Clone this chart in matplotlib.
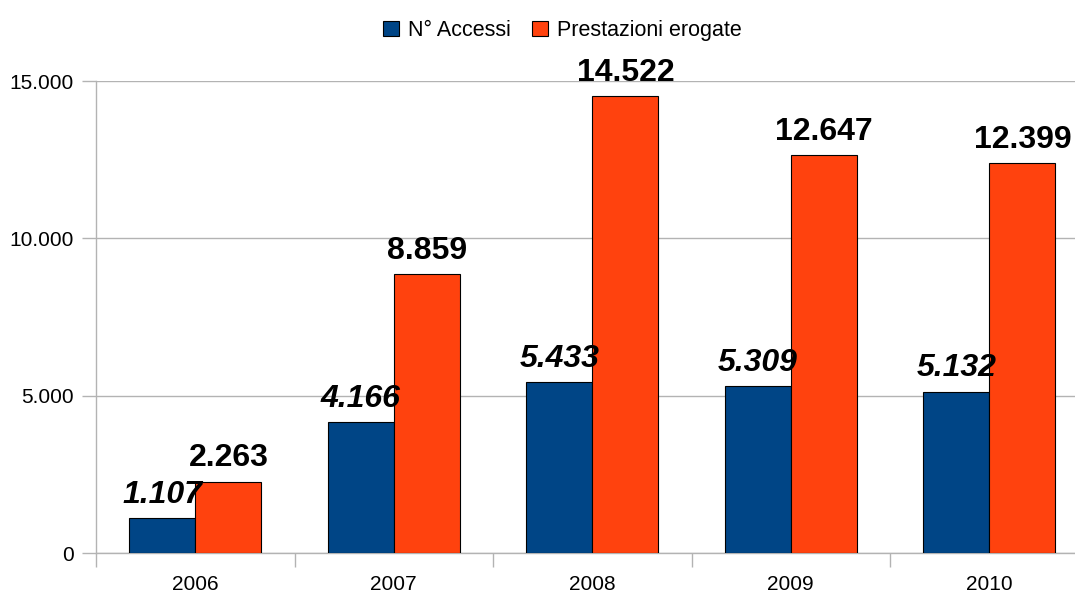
import numpy as np
import matplotlib.pyplot as plt
from matplotlib.patches import Patch

plt.rcParams['font.family'] = ['Liberation Sans', 'DejaVu Sans']

years = ['2006', '2007', '2008', '2009', '2010']
accessi = [1107, 4166, 5433, 5309, 5132]
prestazioni = [2263, 8859, 14522, 12647, 12399]

BLUE = '#004586'
ORANGE = '#ff420e'
GRID = '#b3b3b3'


def fmt(v):
    return f'{v:,}'.replace(',', '.')


fig = plt.figure(figsize=(10.75, 5.97), dpi=100)
# the plot area runs a little past the right edge of the picture, as in the original
ax = fig.add_axes([0.0893, 0.0737, 0.9233, 0.7906])

x = np.arange(len(years))
w = 1 / 3
b1 = ax.bar(x - w / 2, accessi, w, color=BLUE, edgecolor='black', linewidth=0.8, zorder=3)
b2 = ax.bar(x + w / 2, prestazioni, w, color=ORANGE, edgecolor='black', linewidth=0.8, zorder=3)

for bar, v in zip(b1, accessi):
    ax.annotate(fmt(v), (bar.get_x() + bar.get_width() / 2, v), xytext=(0, 6),
                textcoords='offset points', ha='center', va='bottom',
                fontsize=23, fontweight='bold', fontstyle='italic', zorder=5,
                annotation_clip=False)
for bar, v in zip(b2, prestazioni):
    ax.annotate(fmt(v), (bar.get_x() + bar.get_width() / 2, v), xytext=(0, 6),
                textcoords='offset points', ha='center', va='bottom',
                fontsize=23, fontweight='bold', zorder=5, annotation_clip=False)

ax.set_xlim(-0.5, len(years) - 0.5)
ax.set_ylim(0, 15000)
ax.set_yticks([0, 5000, 10000, 15000])
ax.set_yticklabels([fmt(v) for v in [0, 5000, 10000, 15000]], fontsize=15)
ax.yaxis.grid(True, color=GRID, linewidth=1, zorder=0)

ax.set_xticks(np.arange(len(years) + 1) - 0.5)
ax.set_xticklabels([])
ax.set_xticks(x, minor=True)
ax.set_xticklabels(years, minor=True, fontsize=15)
ax.tick_params(axis='x', which='major', length=10, color=GRID, width=1)
ax.tick_params(axis='x', which='minor', length=0, pad=16)
ax.tick_params(axis='y', length=10, color=GRID, width=1, pad=6)

for s in ['top', 'right']:
    ax.spines[s].set_visible(False)
for s in ['left', 'bottom']:
    ax.spines[s].set_color(GRID)
    ax.spines[s].set_linewidth(1)

handles = [Patch(facecolor=BLUE, edgecolor='black', linewidth=0.8, label='N° Accessi'),
           Patch(facecolor=ORANGE, edgecolor='black', linewidth=0.8, label='Prestazioni erogate')]
fig.legend(handles=handles, loc='center', bbox_to_anchor=(0.523, 0.949), ncol=2,
           frameon=False, fontsize=15.5, handlelength=0.75, handleheight=0.75,
           handletextpad=0.4, columnspacing=1.0)

fig.savefig('out.png', dpi=100)
